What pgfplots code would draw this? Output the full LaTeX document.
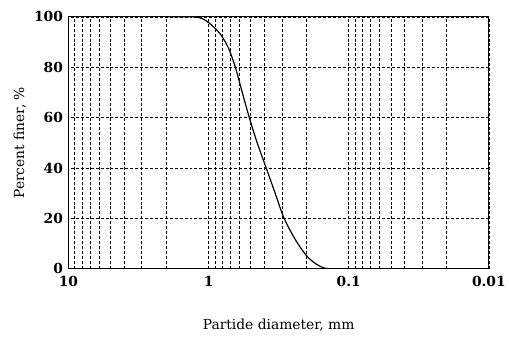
\documentclass[border=0pt]{standalone}
\usepackage{fontspec}
\setmainfont{DejaVu Serif}
\usepackage{pgfplots}
\pgfplotsset{compat=1.18}
\begin{document}
\begin{tikzpicture}
\begin{axis}[
  at={(0,0)}, anchor=south west,
  scale only axis, width=424bp, height=254bp,
  xmode=log, x dir=reverse,
  xmin=0.01, xmax=10, ymin=0, ymax=100,
  xtick={0.01,0.1,1,10}, xticklabels={0.01,0.1,1,10},
  ytick={0,20,40,60,80,100},
  minor xtick={0.02,0.03,0.04,0.05,0.06,0.07,0.08,0.09,0.2,0.3,0.4,0.5,0.6,0.7,0.8,0.9,2,3,4,5,6,7,8,9},
  major tick length=0pt, minor tick length=0pt,
  xmajorgrids, xminorgrids, ymajorgrids,
  major grid style={black, dash pattern=on 3pt off 2pt, line width=0.7pt},
  minor grid style={black, dash pattern=on 3pt off 2pt, line width=0.7pt},
  axis line style={black, line width=1.1pt},
  /pgf/number format/assume math mode=true,
  tick label style={font=\fontsize{14}{14}\selectfont\bfseries},
  xticklabel style={yshift=-4pt},
  yticklabel style={xshift=-2pt},
  xlabel={Partide diameter, mm},
  ylabel={Percent finer, \%},
  label style={font=\fontsize{14}{14}\selectfont},
  xlabel style={at={(rel axis cs:0.5,0)}, anchor=center, yshift=-57bp},
  ylabel style={at={(rel axis cs:0,0.5)}, anchor=center, yshift=49bp},
]
\addplot[black, line width=1.2pt, smooth, tension=0.5] coordinates {
(2.0,100) (1.3,100) (1.15,99.6) (1.05,98.6) (0.95,96.7) (0.82,93) (0.72,87.5) (0.644,80) (0.575,70) (0.512,60) (0.45,50) (0.388,40) (0.335,30) (0.289,20) (0.24,11.5) (0.199,5) (0.17,1.8) (0.15,0.3) (0.14,0) (0.12,0)
};
\end{axis}
\useasboundingbox (-69bp,-73bp) rectangle (440bp,271bp);
\end{tikzpicture}
\end{document}
